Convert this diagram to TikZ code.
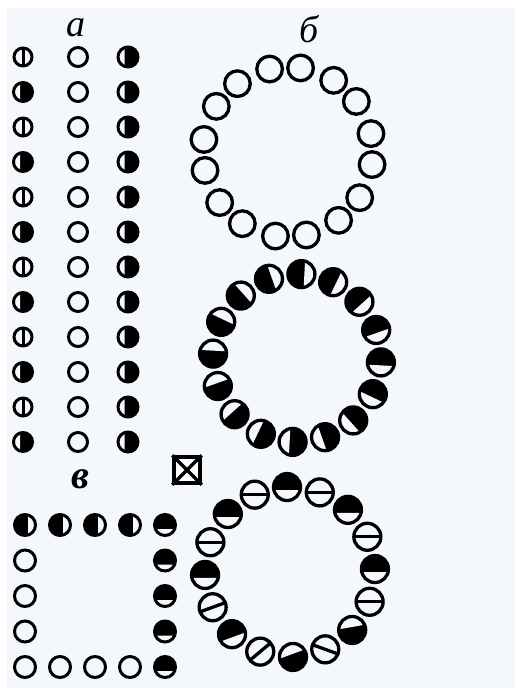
\documentclass[tikz,border=0pt]{standalone}
\usepackage{fontspec}
\newfontfamily\cyrfont{Liberation Serif}
\usetikzlibrary{positioning}
\definecolor{paper}{RGB}{244,247,252}
\tikzset{
  dotline/.style={line width=3pt, draw=black},
  ringline/.style={line width=3.3pt, draw=black},
  panellbl/.style={font=\cyrfont\itshape\fontsize{38}{42}\selectfont, inner sep=0pt},
  pics/opendot/.style={code={\draw[dotline] (0,0) circle[radius=#1];}},
  pics/bardot/.style n args={2}{code={
    \draw[dotline] (0,0) circle[radius=#1];
    \draw[dotline] (#2:#1) -- ({#2+180}:#1);}},
  pics/moondot/.style n args={3}{code={
    \fill[black] (0,0) circle[radius=#1];
    \fill[paper] ({#3-acos(#2)}:#1) arc[start angle={#3-acos(#2)}, end angle={#3+acos(#2)}, radius=#1] -- cycle;
    \draw[dotline] (0,0) circle[radius=#1];}}
}
\begin{document}
\begin{tikzpicture}[x=1pt, y=1pt]
\fill[white] (0,0) rectangle (515,-688);
\fill[paper] (7,-8) rectangle (515,-688);
\useasboundingbox (0,0) rectangle (515,-688);
% ---- panel a: three columns ----
\node[panellbl] (lbla) at (76,-28) {а};
\foreach \i in {0,2,...,10} \pic at (23,{-57-35*\i}) {bardot={9}{90}};
\foreach \i in {1,3,...,11} \pic at (23,{-57-35*\i}) {moondot={9.5}{0.3}{180}};
\foreach \i in {0,...,11} \pic at (78,{-57-35*\i}) {opendot=9.5};
\foreach \i in {0,...,11} \pic at (128,{-57-35*\i}) {moondot={10}{0.35}{180}};
% ---- panel b: three rings ----
\node[panellbl] (lblb) at (309,-29) {б};
\begin{scope}[shift={(288,-152)}, dotline/.style={ringline}]
\foreach \k in {0,...,7} \foreach \s in {-10.5,10.5}
  \pic at ({92-45*\k+\s}:85) {opendot=12.8};
\end{scope}
\begin{scope}[shift={(297,-358)}, dotline/.style={ringline}]
\foreach \k in {0,...,15}
  \pic at ({87-22.5*\k}:84) {moondot={13.5}{0.22}{87-22.5*\k-90}};
\end{scope}
\begin{scope}[shift={(290,-572)}, dotline/.style={ringline}]
\foreach \k/\w in {0/-90, 2/-90, 4/-90, 6/100, 8/110, 10/-70, 12/-90, 14/-90}
  \pic at ({92-22.5*\k}:85) {moondot={13.5}{0.22}{\w}};
\foreach \k/\t in {1/0, 3/0, 5/0, 7/-20, 9/40, 11/20, 13/0, 15/0}
  \pic at ({92-22.5*\k}:85) {bardot={13.5}{\t}};
\end{scope}
% ---- crossed box ----
\node[draw, line width=3.5pt, minimum size=26pt, inner sep=0pt, fill=white] (cross) at (187,-470) {};
\draw[line width=3.5pt] (cross.north west) -- (cross.south east) (cross.north east) -- (cross.south west);
% ---- panel v: square frame ----
\node[panellbl, font=\cyrfont\bfseries\itshape\fontsize{40}{44}\selectfont] (lblv) at (80,-479) {в};
\foreach \i in {0,...,3} \pic at ({25+35*\i},-525) {moondot={10.5}{0.3}{0}};
\foreach \j in {0,...,4} \pic at (165,{-525-35.5*\j}) {moondot={10.5}{0.4}{-90}};
\foreach \j in {1,...,4} \pic at (25,{-525-35.5*\j}) {opendot=10.5};
\foreach \i in {1,...,3} \pic at ({25+35*\i},-667) {opendot=10.5};
\end{tikzpicture}
\end{document}
